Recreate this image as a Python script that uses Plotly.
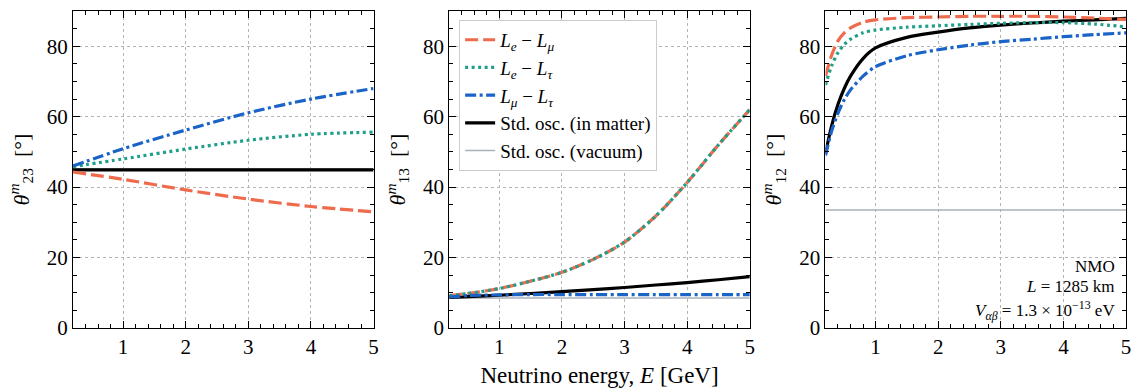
import plotly.graph_objects as go

# ---------------- data ----------------
# Panel 1: theta_23^m
E1 = [0.2, 1, 2, 3, 4, 5]
t23_emu = [44.3, 42.2, 39.2, 36.6, 34.5, 33.0]
t23_etau = [45.8, 48.0, 50.8, 53.3, 55.0, 55.6]
t23_mutau = [46.0, 50.9, 56.2, 61.1, 65.0, 68.0]
t23_std = [44.9, 44.9, 44.9, 44.9, 44.9, 44.9]
t23_vac = [45.2, 45.2, 45.2, 45.2, 45.2, 45.2]

# Panel 2: theta_13^m
E2 = [0.2, 0.5, 1, 1.5, 2, 2.5, 3, 3.5, 4, 4.5, 5]
t13_emu = [9.2, 9.8, 11.2, 13.3, 15.8, 19.5, 24.4, 31.8, 41.3, 52.0, 62.0]
t13_etau = [9.2, 9.8, 11.2, 13.3, 15.8, 19.5, 24.4, 31.8, 41.3, 52.0, 62.0]
t13_mutau = [8.8, 9.2, 9.4, 9.5, 9.5, 9.5, 9.5, 9.5, 9.5, 9.5, 9.5]
t13_std = [8.7, 8.9, 9.3, 9.8, 10.3, 10.9, 11.5, 12.2, 12.9, 13.7, 14.6]
t13_vac = [8.5, 8.5, 8.5, 8.5, 8.5, 8.5, 8.5, 8.5, 8.5, 8.5, 8.5]

# Panel 3: theta_12^m
E3 = [0.2, 0.3, 0.4, 0.5, 0.6, 0.8, 1, 1.5, 2, 2.5, 3, 3.5, 4, 4.5, 5]
t12_emu = [71.5, 77.5, 81.5, 83.8, 85.2, 86.8, 87.5, 88.1, 88.3, 88.5, 88.5, 88.5, 88.3, 88.0, 87.6]
t12_etau = [69.0, 74.5, 78.2, 80.5, 82.0, 83.8, 84.6, 85.4, 85.8, 86.2, 86.5, 86.7, 86.7, 86.3, 85.5]
t12_mutau = [49.0, 56.0, 61.0, 64.8, 67.6, 71.5, 74.2, 77.3, 79.0, 80.3, 81.3, 82.0, 82.7, 83.3, 83.8]
t12_std = [49.5, 57.5, 63.5, 68.0, 71.5, 76.5, 79.5, 82.5, 84.0, 85.2, 86.0, 86.6, 87.1, 87.5, 87.9]
t12_vac = [33.5] * 15

x_ticks = [1, 2, 3, 4, 5]
y_ticks = [0, 20, 40, 60, 80]

labels = [
    "<i>L<sub>e</sub></i> − <i>L<sub>μ</sub></i>",
    "<i>L<sub>e</sub></i> − <i>L<sub>τ</sub></i>",
    "<i>L<sub>μ</sub></i> − <i>L<sub>τ</sub></i>",
    "Std. osc. (in matter)",
    "Std. osc. (vacuum)",
]
y_titles = [
    "<i>θ</i><sup><i>m</i></sup><sub>23</sub>  [°]",
    "<i>θ</i><sup><i>m</i></sup><sub>13</sub>  [°]",
    "<i>θ</i><sup><i>m</i></sup><sub>12</sub>  [°]",
]

# ---------------- styles ----------------
ORANGE = "#EE6B4D"
GREEN = "#1F9E89"
BLUE = "#1A63C7"
BLACK = "#000000"
GRAY = "#A9B0B7"
styles = [
    dict(color=ORANGE, width=3.2, dash="13px,5px"),
    dict(color=GREEN, width=3.2, dash="3px,3.5px"),
    dict(color=BLUE, width=3.2, dash="11px,3.5px,3px,3.5px"),
    dict(color=BLACK, width=3.2),
    dict(color=GRAY, width=1.5),
]
draw_order = [4, 3, 0, 1, 2]  # vacuum first, then matter, then NSI curves

panels = [
    (E1, [t23_emu, t23_etau, t23_mutau, t23_std, t23_vac]),
    (E2, [t13_emu, t13_etau, t13_mutau, t13_std, t13_vac]),
    (E3, [t12_emu, t12_etau, t12_mutau, t12_std, t12_vac]),
]

fig = go.Figure()
for p, (E, series) in enumerate(panels):
    ax = "" if p == 0 else str(p + 1)
    for k in draw_order:
        fig.add_trace(go.Scatter(
            x=E, y=series[k], mode="lines", line=dict(shape="spline", smoothing=0.8, **styles[k]),
            name=labels[k], legendgroup=f"g{k}", legendrank=k + 1,
            showlegend=(p == 1), xaxis="x" + ax, yaxis="y" + ax, hoverinfo="skip",
        ))

FONT = "Liberation Serif"
doms = [[0.0, 0.2854], [0.3573, 0.6427], [0.7146, 1.0]]
layout = dict(
    width=1140, height=392,
    margin=dict(l=73, r=9, t=11, b=63),
    paper_bgcolor="white", plot_bgcolor="white",
    font=dict(family=FONT, size=21, color="black"),
    legend=dict(
        x=0.3667, y=0.972, xanchor="left", yanchor="top",
        bgcolor="white", bordercolor="#CCCCCC", borderwidth=1,
        font=dict(family=FONT, size=19), tracegroupgap=4,
        traceorder="normal",
    ),
    showlegend=True,
)
for p in range(3):
    ax = "" if p == 0 else str(p + 1)
    common = dict(
        showline=True, linecolor="black", linewidth=1, mirror="allticks",
        ticks="inside", ticklen=7, tickwidth=1, tickcolor="black",
        showgrid=True, gridcolor="#B4B4B4", gridwidth=0.7, griddash="dot",
        zeroline=False, tickfont=dict(family=FONT, size=21),
    )
    layout["xaxis" + ax] = dict(
        common, domain=doms[p], range=[0.2, 5], tickmode="array", tickvals=x_ticks,
        anchor="y" + ax,
        minor=dict(tickmode="linear", tick0=0, dtick=0.2, ticks="inside", ticklen=4, tickcolor="black"),
    )
    layout["yaxis" + ax] = dict(
        common, range=[0, 90], tickmode="array", tickvals=y_ticks, anchor="x" + ax,
        minor=dict(tickmode="linear", tick0=0, dtick=5, ticks="inside", ticklen=4, tickcolor="black"),
        title=dict(text=y_titles[p], font=dict(family=FONT, size=22), standoff=11),
    )
layout["xaxis2"]["title"] = dict(text="Neutrino energy, <i>E</i> [GeV]",
                                 font=dict(family=FONT, size=23), standoff=8)
fig.update_layout(**layout)

ann_text = ["NMO", "<i>L</i> = 1285 km", "<i>V<sub>αβ</sub></i> = 1.3 × 10<sup>−13</sup> eV"]
ann_y = [17.4, 11.7, 5.0]
for t, yy in zip(ann_text, ann_y):
    fig.add_annotation(x=4.86, y=yy, xref="x3", yref="y3", text=t, showarrow=False,
                       xanchor="right", yanchor="middle",
                       font=dict(family=FONT, size=17, color="black"))

fig.write_html("out.html", config={"displayModeBar": False})
